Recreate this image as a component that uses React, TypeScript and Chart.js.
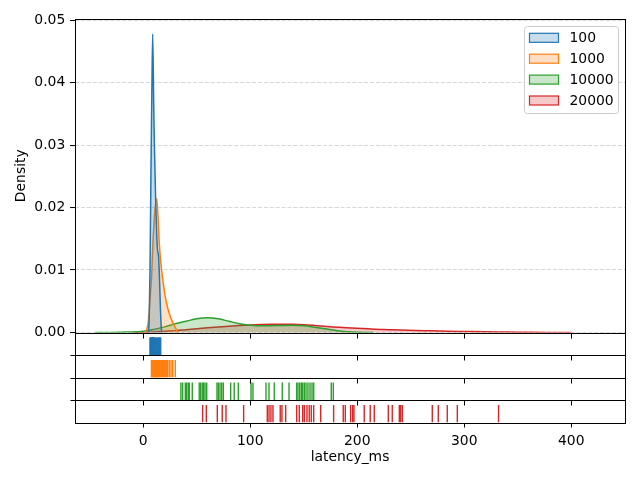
import React, { useEffect, useRef } from 'react';
import { Chart, registerables } from 'chart.js';

Chart.register(...registerables);

// ---- data ----
const seriesLabels = ['100', '1000', '10000', '20000'];
const seriesColors = ['#1f77b4', '#ff7f0e', '#2ca02c', '#d62728'];
const seriesFills = [
  'rgba(31,119,180,0.25)',
  'rgba(255,127,14,0.25)',
  'rgba(44,160,44,0.25)',
  'rgba(214,39,40,0.25)',
];

const kdeX100 = [4.8, 5.5, 6.3, 7.2, 8.0, 8.8, 9.8, 10.4, 11.6, 12.6, 13.3, 14.3, 15.2, 16.0, 16.8, 17.5];
const kdeY100 = [0, 0.002, 0.01, 0.026, 0.038, 0.0478, 0.036, 0.03, 0.021, 0.0155, 0.0133, 0.0122, 0.0085, 0.004, 0.0008, 0];

const kdeX1000 = [1.5, 3.0, 4.5, 5.6, 6.8, 7.8, 9.3, 10.9, 12.6, 13.8, 15.0, 17.2, 19.0, 20.8, 23.0, 25.0, 27.3, 29.6, 31.5, 33.0];
const kdeY1000 = [0, 0.0004, 0.0015, 0.0035, 0.0065, 0.009, 0.0153, 0.0196, 0.0214, 0.0185, 0.0142, 0.0099, 0.0075, 0.0055, 0.0038, 0.0027, 0.0017, 0.0009, 0.0003, 0];

const kdeX10000 = [-45, -30, -15, 0, 10, 20, 30, 40, 50, 60, 70, 80, 90, 100, 110, 120, 130, 140, 150, 160, 170, 180, 190, 200, 215];
const kdeY10000 = [0, 0.00002, 0.00008, 0.0002, 0.0005, 0.0009, 0.0014, 0.0018, 0.0022, 0.00235, 0.0022, 0.0018, 0.0014, 0.00118, 0.00108, 0.0011, 0.00114, 0.00116, 0.00108, 0.00085, 0.0006, 0.00032, 0.00013, 0.00004, 0];

const kdeX20000 = [-10, 0, 10, 20, 30, 40, 50, 60, 70, 80, 90, 100, 110, 120, 130, 140, 150, 160, 175, 190, 210, 225, 240, 255, 270, 285, 300, 320, 340, 360, 380, 400];
const kdeY20000 = [0, 0.00003, 0.0001, 0.0002, 0.0003, 0.00045, 0.0006, 0.00075, 0.0009, 0.00102, 0.00112, 0.0012, 0.00127, 0.00132, 0.00134, 0.00133, 0.00126, 0.00114, 0.00093, 0.00078, 0.0006, 0.00048, 0.00041, 0.00033, 0.00027, 0.0002, 0.00016, 0.00011, 0.00008, 0.00004, 0.00001, 0];

const rug100 = [6.3, 6.8, 7.2, 7.5, 7.8, 8.0, 8.2, 8.4, 8.6, 8.7, 8.8, 8.9, 9.0, 9.1, 9.3, 9.5, 9.7, 10.0, 10.4, 10.9, 11.5, 12.2, 13.0, 13.6, 14.1, 14.6, 15.2, 15.8, 16.3];
const rug1000 = [7.6, 8.3, 9.0, 9.6, 10.2, 10.8, 11.3, 11.8, 12.3, 12.8, 13.3, 13.8, 14.4, 15.0, 15.7, 16.4, 17.2, 18.0, 18.8, 19.6, 20.4, 21.2, 21.9, 22.8, 24.3, 25.9, 27.5, 29.9];
const rug10000 = [35.2, 36.8, 39.3, 40.6, 42.1, 43.0, 45.8, 52.3, 53.6, 55.1, 56.4, 57.7, 59.3, 68.9, 70.1, 71.7, 73.3, 74.8, 81.7, 85.0, 88.8, 100.7, 102.5, 114.7, 117.5, 122.4, 129.9, 136.2, 143.4, 144.6, 146.2, 147.7, 149.0, 150.5, 152.1, 153.9, 155.8, 157.7, 159.3, 175.7, 177.6];
const rug20000 = [55.5, 58.9, 69.2, 73.8, 77.3, 93.8, 115.9, 117.5, 119.3, 121.2, 128.0, 129.6, 133.1, 143.4, 145.8, 149.0, 150.5, 153.0, 155.1, 157.0, 159.3, 165.8, 177.9, 186.9, 188.8, 193.8, 195.7, 196.9, 206.5, 212.1, 215.9, 229.0, 232.7, 239.3, 240.6, 242.1, 270.1, 275.7, 284.1, 293.5, 332.0];

const xTicks = [0, 100, 200, 300, 400];
const yTicks = [0, 0.01, 0.02, 0.03, 0.04, 0.05];
const xTitle = 'latency_ms';
const yTitle = 'Density';

// ---- layout constants ----
const X_MIN = -63.8;
const X_MAX = 450.2;
const Y_MAX = 0.0502;
const FONT = 13.9;
const RUG_IDS = ['r1', 'r2', 'r3', 'r4'];
const RUG_LEVEL = 0.39;
const RUG_HALF = 8.75;

const framePlugin = {
  id: 'frames',
  afterDraw(chart: any) {
    const { ctx, chartArea } = chart;
    const xs = chart.scales.x;
    const ids = ['y', ...RUG_IDS];
    const L = Math.round(chartArea.left) + 0.5;
    const R = Math.round(chartArea.right) + 0.5;
    ctx.save();
    ctx.strokeStyle = '#000';
    ctx.lineWidth = 1;
    ids.forEach((id, i) => {
      const s = chart.scales[id];
      const T = Math.round(s.top) + 0.5;
      const B = Math.round(s.bottom) + 0.5;
      ctx.strokeRect(L, T, R - L, B - T);
      if (i < ids.length - 1) {
        ctx.beginPath();
        xTicks.forEach((v) => {
          const px = Math.round(xs.getPixelForValue(v)) + 0.5;
          ctx.moveTo(px, B);
          ctx.lineTo(px, B + 5);
        });
        if (i > 0) {
          ctx.moveTo(L, B);
          ctx.lineTo(L - 5, B);
        }
        ctx.stroke();
      }
    });
    ctx.restore();

    // legend
    const bx = chartArea.right - 100.5;
    const by = chartArea.top + 7.5;
    const bw = 94;
    const bh = 87;
    ctx.save();
    ctx.beginPath();
    (ctx as any).roundRect(bx, by, bw, bh, 3);
    ctx.fillStyle = 'rgba(255,255,255,0.8)';
    ctx.fill();
    ctx.strokeStyle = '#cccccc';
    ctx.lineWidth = 1;
    ctx.stroke();
    ctx.font = `${FONT}px 'DejaVu Sans'`;
    ctx.textBaseline = 'middle';
    ctx.textAlign = 'left';
    seriesLabels.forEach((lab, i) => {
      const cy = by + 11.3 + i * 20.9;
      ctx.fillStyle = seriesFills[i];
      ctx.fillRect(bx + 5, cy - 4.5, 29, 9);
      ctx.strokeStyle = seriesColors[i];
      ctx.lineWidth = 1.2;
      ctx.strokeRect(bx + 5, cy - 4.5, 29, 9);
      ctx.fillStyle = '#000';
      ctx.fillText(lab, bx + 45, cy + 0.5);
    });
    ctx.restore();
  },
};

export default function App() {
  const ref = useRef<HTMLCanvasElement>(null);
  useEffect(() => {
    const canvas = ref.current;
    if (!canvas) return;
    Chart.defaults.font.family = "'DejaVu Sans', sans-serif";
    Chart.defaults.font.size = FONT;
    Chart.defaults.color = '#000';

    const kdeXs = [kdeX100, kdeX1000, kdeX10000, kdeX20000];
    const kdeYs = [kdeY100, kdeY1000, kdeY10000, kdeY20000];
    const rugs = [rug100, rug1000, rug10000, rug20000];

    const datasets: any[] = [];
    kdeXs.forEach((xsArr, i) => {
      datasets.push({
        type: 'line',
        label: seriesLabels[i],
        data: xsArr.map((x, j) => ({ x, y: kdeYs[i][j] })),
        borderColor: seriesColors[i],
        backgroundColor: seriesFills[i],
        borderWidth: 1.5,
        fill: 'origin',
        pointRadius: 0,
        cubicInterpolationMode: 'monotone',
        xAxisID: 'x',
        yAxisID: 'y',
        order: i,
      });
    });
    rugs.forEach((vals, i) => {
      datasets.push({
        type: 'scatter',
        label: 'rug ' + seriesLabels[i],
        data: vals.map((v) => ({ x: v, y: RUG_LEVEL })),
        xAxisID: 'x',
        yAxisID: RUG_IDS[i],
        pointStyle: 'line',
        rotation: 90,
        pointRotation: 90,
        pointRadius: RUG_HALF,
        pointBorderColor: seriesColors[i],
        borderColor: seriesColors[i],
        pointBorderWidth: 1.4,
        borderWidth: 1.4,
        showLine: false,
        order: 10 + i,
      });
    });

    const rugScale = (w: number) => ({
      type: 'linear',
      axis: 'y',
      position: 'left',
      stack: 'v',
      stackWeight: w,
      min: 0,
      max: 1,
      ticks: { display: false },
      grid: { display: false },
      border: { display: false },
      afterFit: (s: any) => {
        s.width = 75;
      },
    });

    const chart = new Chart(canvas, {
      type: 'line',
      data: { datasets },
      plugins: [framePlugin],
      options: {
        animation: false,
        responsive: false,
        devicePixelRatio: 1,
        events: [],
        layout: { padding: { top: 19, right: 15, left: 0, bottom: 0 } },
        plugins: { legend: { display: false }, tooltip: { enabled: false } },
        scales: {
          x: {
            type: 'linear',
            position: 'bottom',
            min: X_MIN,
            max: X_MAX,
            afterBuildTicks: (s: any) => {
              s.ticks = xTicks.map((v) => ({ value: v }));
            },
            ticks: { callback: (v: any) => String(v), maxRotation: 0, padding: 6, color: '#000' },
            grid: { drawOnChartArea: false, drawTicks: true, tickLength: 5, tickColor: '#000', tickWidth: 1 },
            border: { display: false },
            title: { display: true, text: xTitle, color: '#000', padding: { top: 0, bottom: 14.2 } },
            afterFit: (s: any) => {
              s.height = 57.5;
            },
          },
          r4: rugScale(22.5),
          r3: rugScale(22.5),
          r2: rugScale(22.5),
          r1: rugScale(22.5),
          y: {
            type: 'linear',
            position: 'left',
            stack: 'v',
            stackWeight: 313.5,
            min: 0,
            max: Y_MAX,
            afterBuildTicks: (s: any) => {
              s.ticks = yTicks.map((v) => ({ value: v }));
            },
            ticks: { callback: (v: any) => Number(v).toFixed(2), padding: 4.7, color: '#000', includeBounds: false },
            grid: {
              color: 'rgba(176,176,176,0.5)',
              lineWidth: 1.1,
              drawTicks: true,
              tickLength: 5,
              tickColor: '#000',
              tickWidth: 1,
              tickBorderDash: [],
            },
            border: { display: false, dash: [4.1, 1.8] },
            title: { display: true, text: yTitle, color: '#000', padding: { top: 12.7, bottom: 0 } },
            afterFit: (s: any) => {
              s.width = 75;
            },
          },
        } as any,
      },
    } as any);
    return () => chart.destroy();
  }, []);

  return (
    <div style={{ position: 'absolute', left: 0, top: 0, width: 640, height: 480, background: '#fff' }}>
      <canvas ref={ref} width={640} height={480} style={{ width: 640, height: 480 }} />
    </div>
  );
}
